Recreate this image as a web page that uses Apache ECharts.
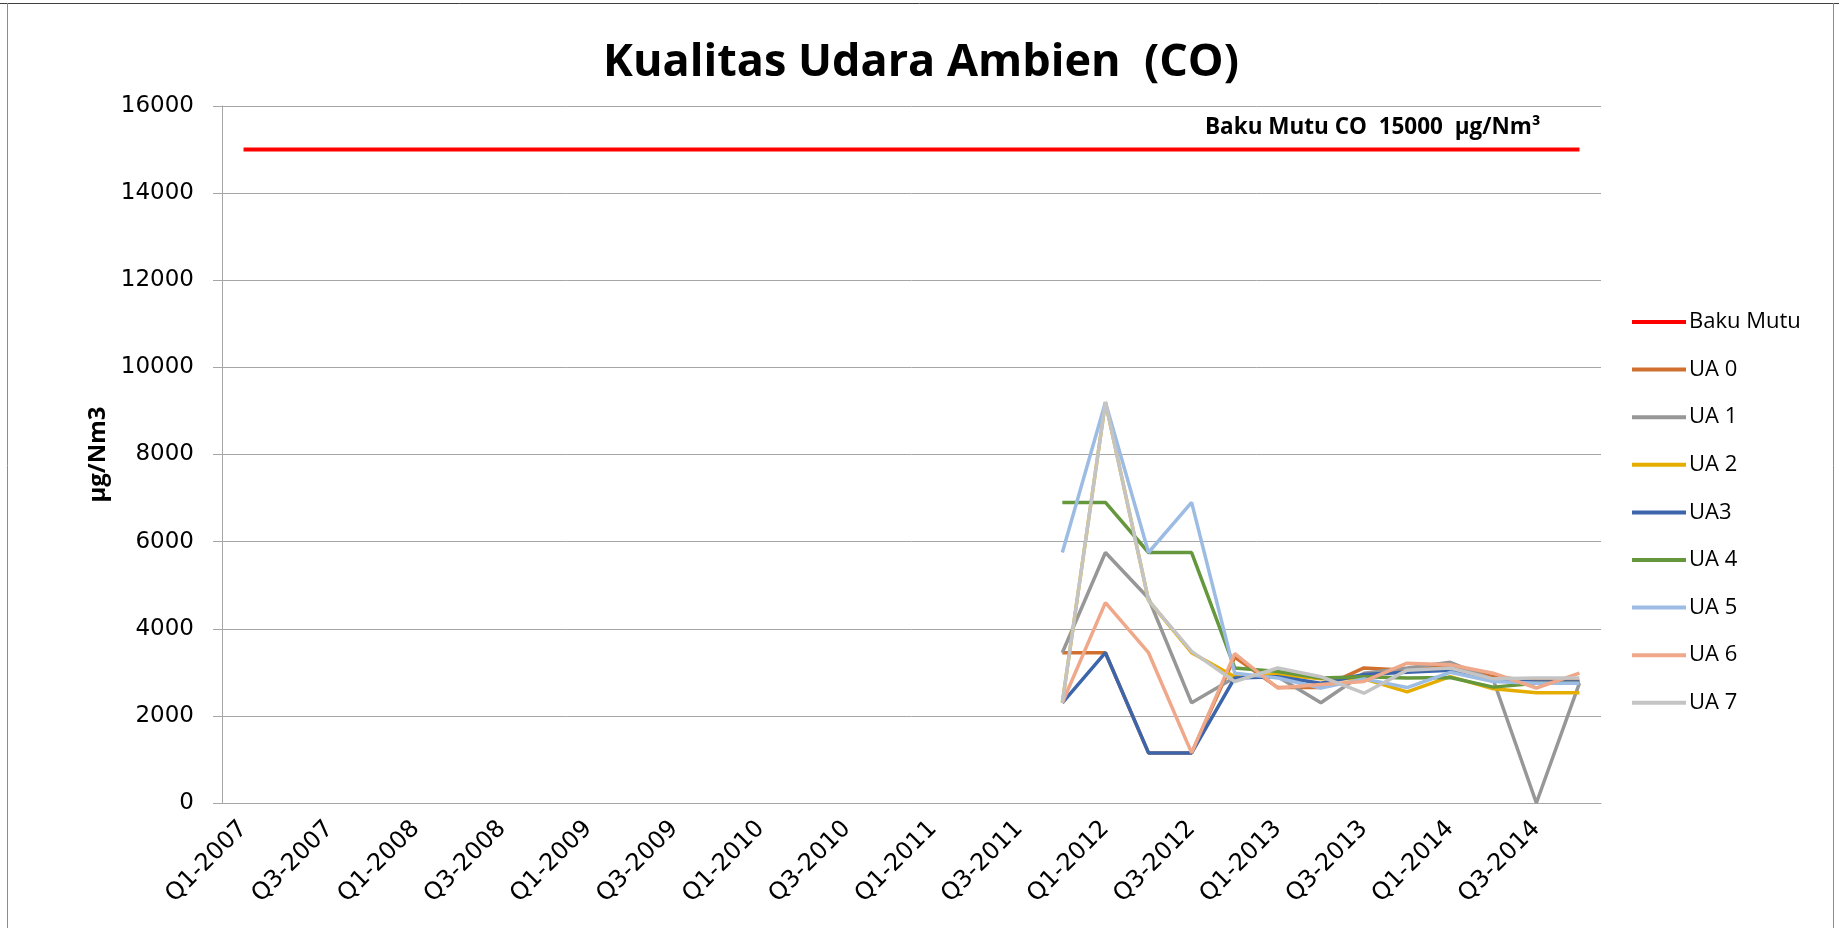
<!DOCTYPE html>
<html>
<head>
<meta charset="utf-8">
<title>Kualitas Udara Ambien (CO)</title>
<script src="https://cdn.jsdelivr.net/npm/echarts@6/dist/echarts.min.js"></script>
<style>
  html, body { margin: 0; padding: 0; background: #fff; }
  #chart { width: 1839px; height: 928px; }
</style>
</head>
<body>
<div id="chart"></div>
<script>
// kuartal Q1-2007 .. Q4-2014
const years = [2007, 2008, 2009, 2010, 2011, 2012, 2013, 2014]
const quarters = []
years.forEach(y => { ['Q1', 'Q2', 'Q3', 'Q4'].forEach(q => quarters.push(q + '-' + y)) })

const yTicks = [0, 2000, 4000, 6000, 8000, 10000, 12000, 14000, 16000]
const bakuMutu = 15000

// data pengukuran mulai Q4-2011 (13 kuartal)
const ua0 = [3450, 3450, 1150, 1150, 3350, 2650, 2650, 3100, 3050, 3150, 2900, 2800, 2800]
const ua1 = [3450, 5750, 4700, 2300, 2880, 2900, 2300, 2980, 3100, 3230, 2830, 0, 2750]
const ua2 = [2300, 9200, 4650, 3450, 2900, 2950, 2850, 2850, 2550, 2900, 2620, 2530, 2530]
const ua3 = [2300, 3450, 1150, 1150, 2870, 2900, 2750, 2950, 3000, 3050, 2800, 2780, 2780]
const ua4 = [6900, 6900, 5750, 5750, 3100, 3020, 2870, 2900, 2870, 2880, 2660, 2750, 2750]
const ua5 = [5750, 9200, 5750, 6900, 2980, 2870, 2640, 2850, 2650, 3000, 2790, 2750, 2750]
const ua6 = [2300, 4600, 3450, 1150, 3430, 2640, 2720, 2790, 3210, 3175, 2980, 2640, 2980]
const ua7 = [2300, 9200, 4650, 3480, 2790, 3100, 2900, 2520, 3050, 3100, 2850, 2870, 2870]

const startIndex = quarters.indexOf('Q4-2011')

function pad(arr) {
  const out = quarters.map(() => null)
  arr.forEach((v, i) => { out[startIndex + i] = v })
  return out
}

const seriesDef = [
  { name: 'Baku Mutu', color: '#FF0000', data: quarters.map(() => bakuMutu) },
  { name: 'UA 0', color: '#D0702F', data: pad(ua0) },
  { name: 'UA 1', color: '#979797', data: pad(ua1) },
  { name: 'UA 2', color: '#E5AD00', data: pad(ua2) },
  { name: 'UA3', color: '#3D65AB', data: pad(ua3) },
  { name: 'UA 4', color: '#65973D', data: pad(ua4) },
  { name: 'UA 5', color: '#9DBCE3', data: pad(ua5) },
  { name: 'UA 6', color: '#F0A88A', data: pad(ua6) },
  { name: 'UA 7', color: '#C4C4C4', data: pad(ua7) }
]

const chart = echarts.init(document.getElementById('chart'))

const option = {
  animation: false,
  backgroundColor: '#fff',
  title: {
    text: 'Kualitas Udara Ambien  (CO)',
    left: 916,
    top: 36,
    textAlign: 'center',
    textStyle: { fontFamily: 'Open Sans', fontWeight: 'bold', fontSize: 45, color: '#000' }
  },
  legend: {
    orient: 'vertical',
    left: 1632,
    top: 311,
    padding: 0,
    itemWidth: 54,
    itemHeight: 22,
    itemGap: 25.6,
    data: seriesDef.map(s => ({ name: s.name, icon: 'path://M0,9L54,9L54,13L0,13Z' })),
    textStyle: { fontFamily: 'Open Sans', fontSize: 22, color: '#000', padding: [0, 0, 0, -2] }
  },
  grid: { left: 222, right: 238, top: 106, bottom: 125, containLabel: false },
  xAxis: {
    type: 'category',
    data: quarters,
    boundaryGap: true,
    axisLine: { lineStyle: { color: '#A6A6A6', width: 1 } },
    axisTick: { interval: 0, length: 9, lineStyle: { color: '#A6A6A6' } },
    axisLabel: {
      interval: 1,
      rotate: 45,
      margin: 22,
      fontFamily: 'DejaVu Sans',
      fontSize: 24,
      color: '#000'
    },
    splitLine: { show: false }
  },
  yAxis: {
    type: 'value',
    min: yTicks[0],
    max: yTicks[yTicks.length - 1],
    interval: 2000,
    name: 'µg/Nm3',
    nameLocation: 'middle',
    nameRotate: 90,
    nameGap: 108,
    nameTextStyle: { fontFamily: 'Open Sans', fontWeight: 'bold', fontSize: 24, color: '#000' },
    axisLine: { show: true, lineStyle: { color: '#A6A6A6', width: 1 } },
    axisTick: { show: true, length: 9, lineStyle: { color: '#A6A6A6' } },
    axisLabel: {
      margin: 28,
      fontFamily: 'DejaVu Sans',
      fontSize: 23,
      color: '#000',
      formatter: v => String(v)
    },
    splitLine: { lineStyle: { color: '#A6A6A6', width: 1 } }
  },
  graphic: [
    { type: 'line', shape: { x1: 0, y1: 3.5, x2: 1839, y2: 3.5 }, style: { stroke: '#404040', lineWidth: 1 } },
    { type: 'line', shape: { x1: 7.5, y1: 3, x2: 7.5, y2: 928 }, style: { stroke: '#8c8c8c', lineWidth: 1 } },
    { type: 'line', shape: { x1: 1833.5, y1: 3, x2: 1833.5, y2: 928 }, style: { stroke: '#8c8c8c', lineWidth: 1 } },
    {
      type: 'text',
      left: 1205,
      top: 116,
      style: {
        text: 'Baku Mutu CO  15000  µg/Nm³',
        fontFamily: 'Open Sans',
        fontWeight: 'bold',
        fontSize: 22.5,
        fill: '#000'
      }
    }
  ],
  series: seriesDef.map(s => ({
    name: s.name,
    type: 'line',
    data: s.data,
    symbol: 'none',
    connectNulls: false,
    lineStyle: { color: s.color, width: s.name === 'Baku Mutu' ? 4 : 3.5 },
    itemStyle: { color: s.color },
    emphasis: { disabled: true }
  }))
}

chart.setOption(option)
window.addEventListener('resize', function () {
  chart.resize()
})
</script>
</body>
</html>
